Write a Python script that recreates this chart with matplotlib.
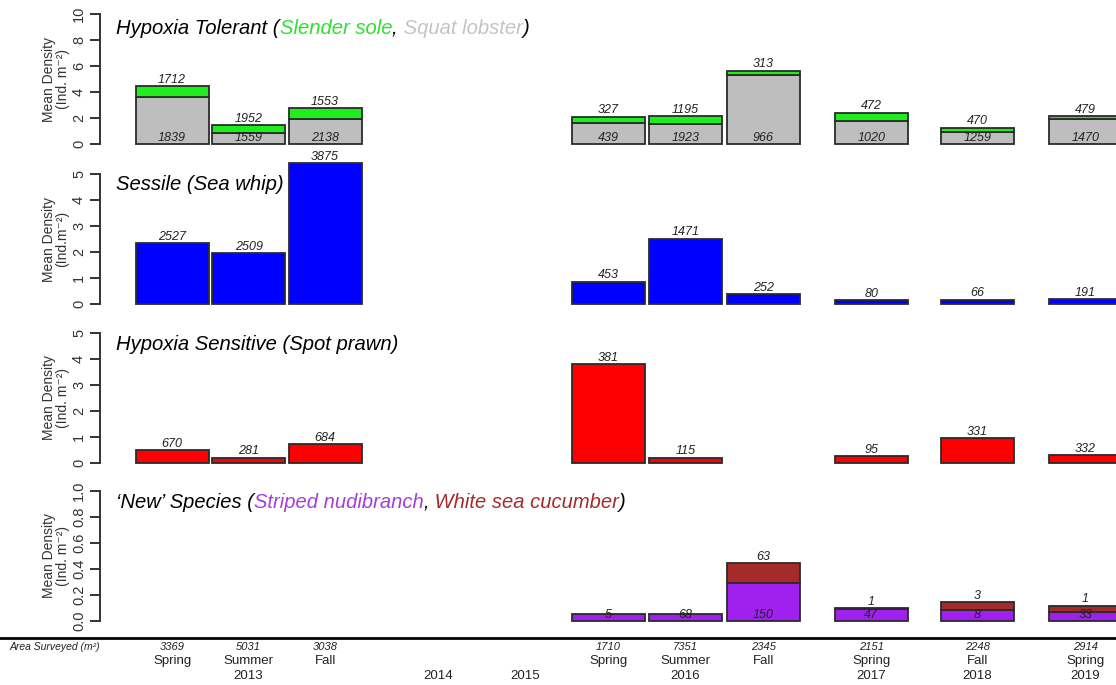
import matplotlib
matplotlib.use('Agg')
import matplotlib.pyplot as plt
import numpy as np
from matplotlib.transforms import blended_transform_factory
from matplotlib.lines import Line2D

plt.rcParams.update({
    'font.family': ['Liberation Sans', 'DejaVu Sans'],
})

# ---- data ----
seasons = ['Spring', 'Summer', 'Fall', 'Spring', 'Summer', 'Fall', 'Spring', 'Fall', 'Spring']
area = [3369, 5031, 3038, 1710, 7351, 2345, 2151, 2248, 2914]
years = ['2013', '2014', '2015', '2016', '2017', '2018', '2019']

# hypoxia tolerant: squat lobster (bottom, gray) + slender sole (top, green)
lobster = [3.64, 0.82, 1.90, 1.59, 1.54, 5.31, 1.79, 0.95, 1.90]
sole = [0.82, 0.64, 0.87, 0.51, 0.61, 0.33, 0.62, 0.30, 0.25]
lobster_n = [1839, 1559, 2138, 439, 1923, 966, 1020, 1259, 1470]
sole_n = [1712, 1952, 1553, 327, 1195, 313, 472, 470, 479]

# sessile: sea whip
whip = [2.33, 1.95, 5.41, 0.86, 2.51, 0.38, 0.15, 0.17, 0.19]
whip_n = [2527, 2509, 3875, 453, 1471, 252, 80, 66, 191]

# hypoxia sensitive: spot prawn
prawn = [0.50, 0.21, 0.72, 3.81, 0.21, np.nan, 0.27, 0.96, 0.31]
prawn_n = [670, 281, 684, 381, 115, None, 95, 331, 332]

# new species: striped nudibranch (bottom) + white sea cucumber (top)
nudi = [np.nan, np.nan, np.nan, 0.057, 0.057, 0.293, 0.095, 0.088, 0.069]
cuke = [np.nan, np.nan, np.nan, 0.0, 0.0, 0.153, 0.003, 0.056, 0.049]
nudi_n = [None, None, None, 5, 68, 150, 47, 8, 33]
cuke_n = [None, None, None, None, None, 63, 1, 3, 1]

# ---- layout ----
W, H = 1116, 685
x_pos = np.array([0, 1, 2, 5.7, 6.71, 7.73, 9.14, 10.53, 11.94])
year_x = [1, 3.48, 4.61, 6.71, 9.14, 10.53, 11.94]
bar_w = 0.955
edge = '#2b2b2b'
lab_col = '#222222'
axis_col = '#333333'

fig = plt.figure(figsize=(W / 100, H / 100), dpi=100)


def px_axes(top, bottom):
    return fig.add_axes([100 / W, 1 - bottom / H, 1 - 100 / W, (bottom - top) / H])


def style_axis(ax, ymax, ticks, ticklabels, ylabel):
    ax.set_xlim(-0.943, 12.34)
    ax.set_ylim(0, ymax)
    for s in ['top', 'right', 'bottom']:
        ax.spines[s].set_visible(False)
    ax.spines['left'].set_bounds(0, ymax)
    ax.spines['left'].set_color(axis_col)
    ax.spines['left'].set_linewidth(1.4)
    ax.set_xticks([])
    ax.set_yticks(ticks)
    ax.set_yticklabels(ticklabels, rotation=90, va='center', fontsize=10.5)
    ax.tick_params(axis='y', length=7, width=1.4, color=axis_col,
                   labelcolor=axis_col, pad=3)
    ax.set_ylabel(ylabel, fontsize=10, color=axis_col, linespacing=1.0)
    ax.yaxis.set_label_coords(-0.03, 0.5)
    ax.patch.set_alpha(0)


def top_labels(ax, xs, tops, counts):
    for x, t, n in zip(xs, tops, counts):
        if n is None or np.isnan(t):
            continue
        ax.annotate(str(n), (x, t), xytext=(0, 0.3), textcoords='offset points',
                    ha='center', va='bottom', fontsize=9, style='italic',
                    color=lab_col, annotation_clip=False)


def base_labels(ax, xs, counts):
    for x, n in zip(xs, counts):
        if n is None:
            continue
        ax.annotate(str(n), (x, 0), xytext=(0, 0), textcoords='offset points',
                    ha='center', va='bottom', fontsize=9, style='italic',
                    color=lab_col, annotation_clip=False)


def color_title(ax, x_px, y_px, parts, size=14.6):
    t = None
    for s, c in parts:
        if t is None:
            t = fig.text(x_px / W, 1 - y_px / H, s, color=c, fontsize=size,
                         style='italic', va='center', ha='left')
        else:
            t = ax.annotate(s, xy=(1, 0), xycoords=t, va='bottom', ha='left',
                            color=c, fontsize=size, style='italic',
                            annotation_clip=False)


ax1 = px_axes(14, 144)
ax2 = px_axes(174, 304)
ax3 = px_axes(333, 463)
ax4 = px_axes(491, 621)

dens_lab = 'Mean Density\n(Ind. m\u207b\u00b2)'

# panel 1
ax1.bar(x_pos, lobster, bar_w, color='#BEBEBE', edgecolor=edge, lw=1.3, clip_on=False)
ax1.bar(x_pos, sole, bar_w, bottom=lobster, color='#1EEE1E', edgecolor=edge, lw=1.3,
        clip_on=False)
top_labels(ax1, x_pos, np.add(lobster, sole), sole_n)
base_labels(ax1, x_pos, lobster_n)
style_axis(ax1, 10, [0, 2, 4, 6, 8, 10], ['0', '2', '4', '6', '8', '10'], dens_lab)

# panel 2
ax2.bar(x_pos, whip, bar_w, color='#0000FF', edgecolor=edge, lw=1.3, clip_on=False)
top_labels(ax2, x_pos, whip, whip_n)
style_axis(ax2, 5, range(6), [str(i) for i in range(6)], 'Mean Density\n(Ind.m\u207b\u00b2)')

# panel 3
ok = ~np.isnan(prawn)
ax3.bar(x_pos[ok], np.array(prawn)[ok], bar_w, color='#FF0000', edgecolor=edge, lw=1.3,
        clip_on=False)
top_labels(ax3, x_pos, prawn, prawn_n)
style_axis(ax3, 5, range(6), [str(i) for i in range(6)], dens_lab)

# panel 4
ok = ~np.isnan(nudi)
ax4.bar(x_pos[ok], np.array(nudi)[ok], bar_w, color='#A020F0', edgecolor=edge, lw=1.3,
        clip_on=False)
ok2 = ok & (np.nan_to_num(cuke) > 0)
ax4.bar(x_pos[ok2], np.array(cuke)[ok2], bar_w, bottom=np.array(nudi)[ok2],
        color='#A52A2A', edgecolor=edge, lw=1.3, clip_on=False)
top_labels(ax4, x_pos, np.add(nudi, cuke), cuke_n)
base_labels(ax4, x_pos, nudi_n)
style_axis(ax4, 1.0, np.arange(0, 1.01, 0.2),
           ['0.0', '0.2', '0.4', '0.6', '0.8', '1.0'], dens_lab)

# titles
color_title(ax1, 116, 28, [('Hypoxia Tolerant (', 'black'), ('Slender sole', '#2EE02E'),
                           (',', 'black'), (' Squat lobster', '#C4C4C4'), (')', 'black')])
color_title(ax2, 116, 184, [('Sessile (Sea whip)', 'black')])
color_title(ax3, 116, 344, [('Hypoxia Sensitive (Spot prawn)', 'black')])
color_title(ax4, 116, 502, [('\u2018New\u2019 Species (', 'black'),
                            ('Striped nudibranch', '#A63CDA'), (',', 'black'),
                            (' White sea cucumber', '#A52A2A'), (')', 'black')], size=14.5)

# bottom axis line and labels
fig.add_artist(Line2D([0, 1], [1 - 637.5 / H, 1 - 637.5 / H], transform=fig.transFigure,
                      color='black', lw=2))
fig.text(10 / W, 1 - 647 / H, 'Area Surveyed (m\u00b2)', style='italic', fontsize=7.5,
         va='center', ha='left', color=lab_col)
tr = blended_transform_factory(ax4.transData, fig.transFigure)
for x, a, s in zip(x_pos, area, seasons):
    ax4.text(x, 1 - 647 / H, str(a), transform=tr, style='italic', fontsize=8,
             ha='center', va='center', color=lab_col, clip_on=False)
    ax4.text(x, 1 - 661 / H, s, transform=tr, fontsize=9.5,
             ha='center', va='center', color=lab_col, clip_on=False)
for x, y in zip(year_x, years):
    ax4.text(x, 1 - 676 / H, y, transform=tr, fontsize=9.5,
             ha='center', va='center', color=lab_col, clip_on=False)

fig.savefig('out.png', dpi=100)
